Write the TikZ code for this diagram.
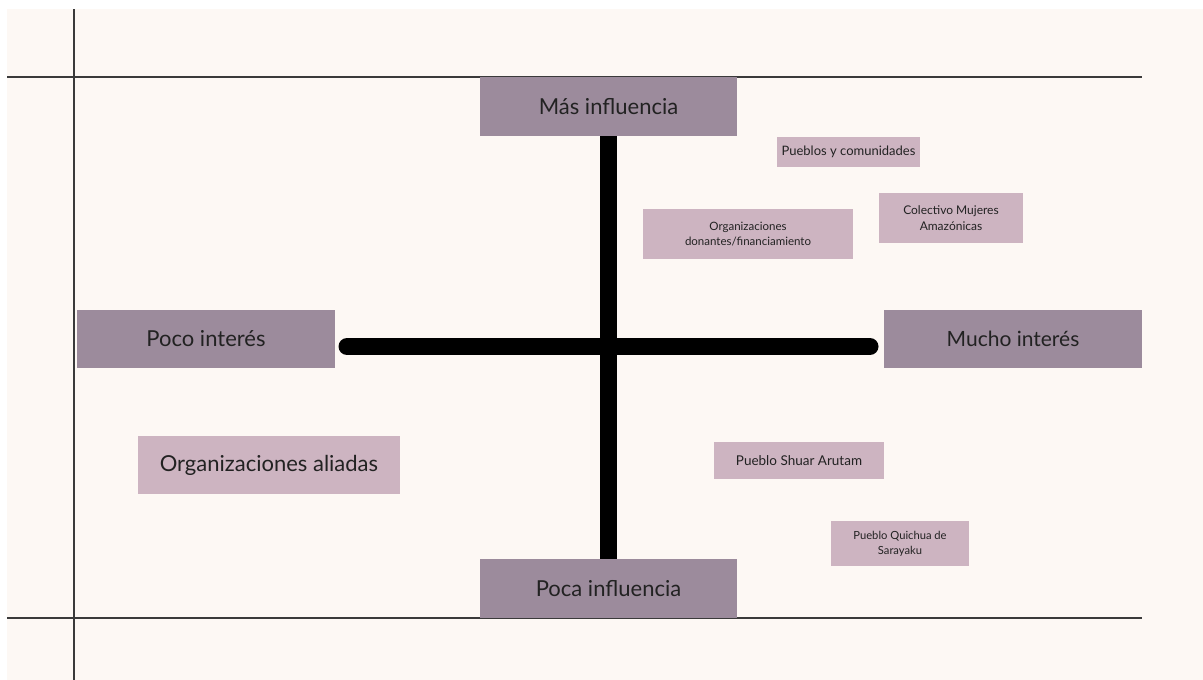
\documentclass[tikz,border=0pt]{standalone}
\usepackage{fontspec}
\setmainfont{Lato}
\usepackage{tikz}

\definecolor{paper}{HTML}{FDF8F4}
\definecolor{boxdark}{HTML}{9C8B9C}
\definecolor{boxlight}{HTML}{CDB4C1}
\definecolor{rule}{HTML}{3A3A3A}
\definecolor{ink}{HTML}{222222}

\tikzset{
	axisbox/.style={fill=boxdark, text=ink, inner sep=0pt, font=\fontsize{22}{26}\selectfont},
	actor/.style={fill=boxlight, text=ink, inner sep=0pt, align=center, font=\fontsize{11.5}{15}\selectfont},
	frameline/.style={draw=rule, line width=1.5pt},
	bar/.style={line width=17pt, black}
}

\begin{document}
\begin{tikzpicture}[x=1pt, y=-1pt]
	\useasboundingbox (0,0) rectangle (1203,680);
	\fill [paper] (7,9) rectangle (1203,680);
	
	\draw [frameline] (7,77) -- (1142,77);
	\draw [frameline] (7,618) -- (1142,618);
	\draw [frameline] (74,9) -- (74,680);
	
	\node [axisbox, minimum width=257pt, minimum height=59pt] (v1) at (608.5,106.5) {Más influencia};
	\node [axisbox, minimum width=257pt, minimum height=59pt] (v2) at (608.5,588.5) {Poca influencia};
	\node [axisbox, minimum width=258pt, minimum height=58pt] (v3) at (206,339) {Poco interés};
	\node [axisbox, minimum width=258pt, minimum height=58pt, font=\fontsize{21}{26}\selectfont] (v4) at (1013,339) {Mucho interés};
	
	\node [actor, minimum width=143pt, minimum height=30pt, font=\fontsize{13}{15}\selectfont] (v5) at (848.5,152) {Pueblos y comunidades};
	\node [actor, minimum width=210pt, minimum height=50pt] (v6) at (748,234) {Organizaciones\\donantes/financiamiento};
	\node [actor, minimum width=144pt, minimum height=50pt, font=\fontsize{12}{16}\selectfont] (v7) at (951,218) {Colectivo Mujeres\\Amazónicas};
	\node [actor, minimum width=262pt, minimum height=58pt, font=\fontsize{22}{26}\selectfont] (v8) at (269,465) {Organizaciones aliadas};
	\node [actor, minimum width=170pt, minimum height=37pt, font=\fontsize{13.5}{16}\selectfont] (v9) at (799,460.5) {Pueblo Shuar Arutam};
	\node [actor, minimum width=138pt, minimum height=45pt, font=\fontsize{11.2}{15}\selectfont] (v10) at (900,543.5) {Pueblo Quichua de\\Sarayaku};
	
	\coordinate (v11) at (347,346.5);
	\coordinate (v12) at (870,346.5);
	\draw [bar] (v1.south) -- (v2.north);
	\draw [bar, line cap=round] (v11) -- (v12);
\end{tikzpicture}
\end{document}
